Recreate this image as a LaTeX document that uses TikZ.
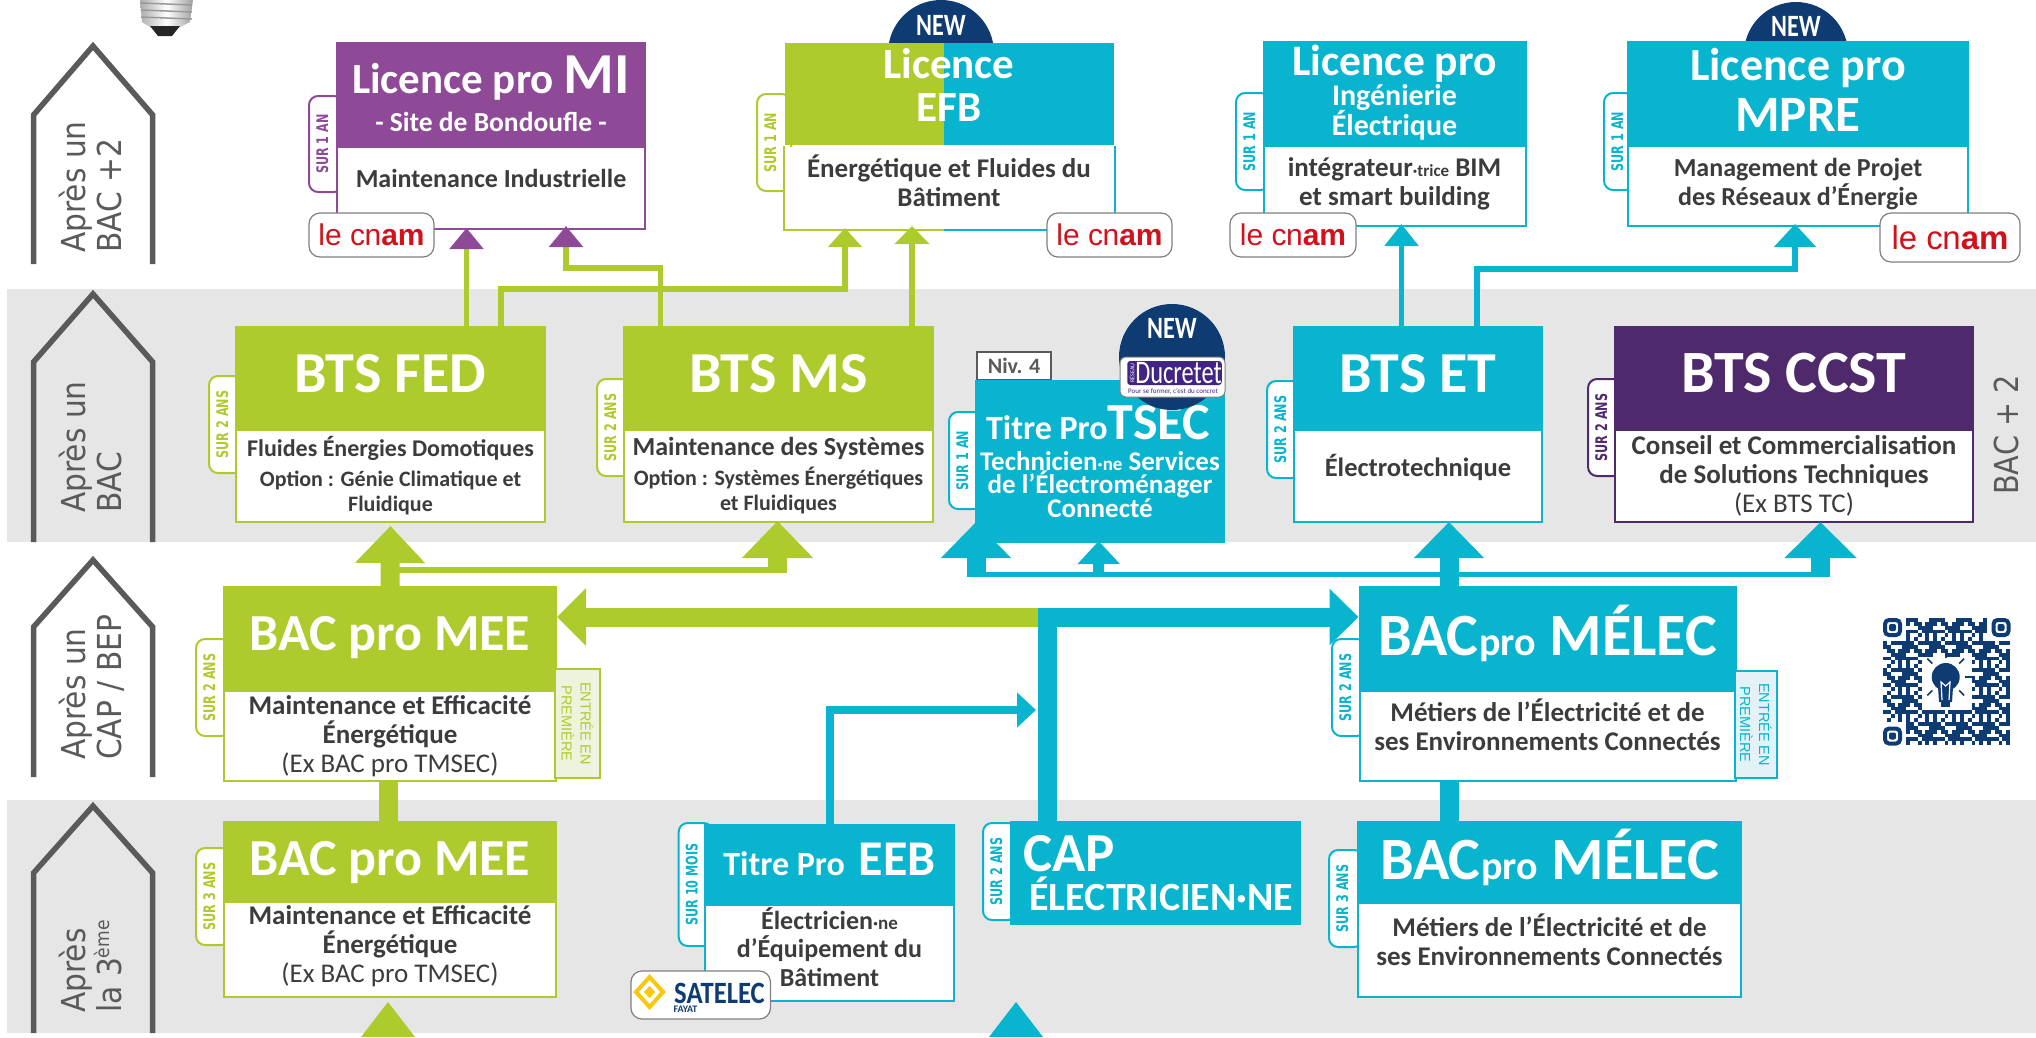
\documentclass[tikz,border=0pt]{standalone}
\usepackage{fontspec}
\setmainfont{Carlito}
\newfontfamily\dejafont{DejaVu Sans}
\newfontfamily\libfont{Liberation Sans}
\usetikzlibrary{arrows.meta}

\definecolor{vert}{RGB}{174,203,45}
\definecolor{bleu}{RGB}{9,180,206}
\definecolor{mauve}{RGB}{142,74,151}
\definecolor{prune}{RGB}{78,42,109}
\definecolor{marine}{RGB}{15,59,115}
\definecolor{ardoise}{RGB}{60,60,60}
\definecolor{maisongris}{RGB}{90,90,90}
\definecolor{bande}{RGB}{230,230,230}
\definecolor{rouge}{RGB}{208,18,27}
\definecolor{jaune}{RGB}{249,200,14}
\definecolor{palevert}{RGB}{237,243,220}
\definecolor{palebleu}{RGB}{227,242,246}

\newcommand{\taille}[2]{\fontsize{#1}{#2}\selectfont}
\newcommand{\etroit}[2]{\scalebox{#1}[1]{#2}}

\tikzset{
	every node/.append style={execute at begin node={\lineskiplimit=-100pt\relax}},
	entete/.style={fill=#1, draw=#1, line width=2pt, text=white, anchor=north west, inner sep=0pt, align=center},
	cadre/.style={fill=white, draw=#1, line width=2pt, text=ardoise, anchor=north west, inner sep=0pt, align=center},
	txt/.style 2 args={font=\bfseries\taille{#1}{#2}},
	duree/.style={fill=white, draw=#1, text=#1, line width=2pt, rotate=90, rounded corners=9pt, inner sep=0pt, text height=12pt, text depth=8pt, font=\dejafont\bfseries\taille{16}{16}},
	cnam/.style={fill=white, draw=gray, line width=1.2pt, rounded corners=11pt, inner sep=0pt},
	premiere/.style={fill=#1, draw=bleu, line width=1.5pt, rotate=-90, inner sep=0pt, align=center, font=\libfont\taille{14.5}{19}},
	maison/.style={draw=maisongris, line width=5.5pt},
	niveau/.style={inner sep=0pt, anchor=base west, rotate=90, text=maisongris, font=\dejafont\taille{33}{33}},
	gros/.style={draw=#1, line width=19pt},
	filet/.style={draw=#1, line width=5.5pt},
	nouveau/.style={inner sep=0pt, text=white, font=\bfseries\taille{31}{31}},
	pointe/.style 2 args={-{Triangle[length=#1,width=#2]}}
}

\begin{document}
\begin{tikzpicture}[x=1pt,y=-1pt]
	\useasboundingbox (0,0) rectangle (2036,1037);

	\fill[bande] (7,289) rectangle (2036,542);
	\fill[bande] (7,800) rectangle (2036,1033);

	\foreach \sommet/\epaule/\pied in {46/115/264, 294/362/542, 560/627/777, 806/873/1033} {
		\draw[maison, line join=miter] (33.5,\pied) -- (33.5,\epaule) -- (93,\sommet) -- (152.7,\epaule) -- (152.7,\pied);
	}
	\foreach \nom/\pied/\ligneA/\ligneB in {bacd/253/Après un/{BAC +2}, baca/513/Après un/BAC, cap/760/Après un/{CAP / BEP}} {
		\node[niveau] (\nom a) at (85,\pied) {\etroit{.9}{\ligneA}};
		\node[niveau] (\nom b) at (121,\pied) {\etroit{.9}{\ligneB}};
	}
	\node[niveau] (troisa) at (85,1013) {\etroit{.9}{Après}};
	\node[niveau] (troisb) at (121,1013) {\etroit{.9}{la 3\raisebox{12pt}{\taille{19}{19}ème}}};
	\node[niveau] (bacplus) at (2018,495) {\etroit{.87}{BAC + 2}};

	% ampoule
	\shade[left color=gray!65, right color=gray!75, middle color=white] (140,0) -- (193,0) -- (190,22) -- (180,27) -- (150,27) -- (142,22) -- cycle;
	\foreach \ystrie in {3,10,17} {
		\draw[gray!80, line width=1.5pt] (141,\ystrie) -- (192,\ystrie+2);
	}
	\fill[black!85] (150,26) -- (180,26) -- (172,36) -- (158,36) -- cycle;

	% pastilles derriere les cadres
	\node[circle, fill=marine, minimum size=106pt, inner sep=0pt] (rondefb) at (941,53) {};
	\node[nouveau] (newefb) at (941,25) {\etroit{.78}{NEW}};
	\node[circle, fill=marine, minimum size=104pt, inner sep=0pt] (rondmpre) at (1796,54) {};
	\node[nouveau] (newmpre) at (1796,26) {\etroit{.78}{NEW}};

	\foreach \nom/\cx/\cy/\lon/\coul/\txt in {
		licmi/326/144/96/mauve/SUR 1 AN, licefb/774/142.5/97/vert/SUR 1 AN, licing/1253/141.5/97/bleu/SUR 1 AN,
		licmpre/1621/141.5/97/bleu/SUR 1 AN, btsfed/226/424.5/97/vert/SUR 2 ANS, btsms/614/427.5/97/vert/SUR 2 ANS,
		tsec/966/460.5/97/bleu/SUR 1 AN, btset/1284/429.5/97/bleu/SUR 2 ANS, btsccst/1605/427.5/97/prune/SUR 2 ANS,
		mee/213/687.5/97/vert/SUR 2 ANS, melec/1349/687.5/97/bleu/SUR 2 ANS, meetrois/213/896.5/97/vert/SUR 3 ANS,
		eeb/695.7/884.5/123/bleu/SUR 10 MOIS, capel/1000/871.5/97/bleu/SUR 2 ANS, melectrois/1346/898.5/97/bleu/SUR 3 ANS} {
		\node[duree=\coul, minimum width=\lon pt, minimum height=34pt] (tab\nom) at (\cx,\cy) {\etroit{.7}{\txt}};
	}

	% licences
	\node[entete=mauve, txt={43}{38}, minimum width=308pt, minimum height=102pt] (licmi) at (336,42)
		{Licence pro {\taille{58}{38}MI}\\\taille{27.5}{38}- Site de Bondoufle -};
	\node[cadre=mauve, txt={26}{30}, minimum width=308pt, minimum height=82pt, text depth=20pt] (licmitxt) at (licmi.south west)
		{Maintenance Industrielle};

	\node[entete=bleu, draw=none, txt={43}{43}, minimum width=329pt, minimum height=102pt, text depth=18pt,
		path picture={\fill[vert] (path picture bounding box.north west) rectangle ([xshift=-5.5pt]path picture bounding box.south);}] (licefb) at (783.5,42)
		{Licence\\EFB};
	\node[cadre=white, draw=none, txt={27}{29}, minimum width=329pt, minimum height=82pt, text depth=14pt] (licefbtxt) at (licefb.south west)
		{Énergétique et Fluides du\\Bâtiment};
	\draw[vert, line width=2pt] (licefb.south west) -- (licefbtxt.south west) -- ([xshift=-5.5pt]licefbtxt.south);
	\draw[bleu, line width=2pt] ([xshift=-5.5pt]licefbtxt.south) -- (licefbtxt.south east) -- (licefb.south east);

	\node[entete=bleu, txt={43.5}{30}, minimum width=262pt, minimum height=102pt] (licing) at (1262.5,41)
		{Licence pro\\\taille{30}{30}Ingénierie\\\taille{30}{30}Électrique};
	\node[cadre=bleu, txt={27}{29}, minimum width=262pt, minimum height=80pt, text depth=8pt] (licingtxt) at (licing.south west)
		{intégrateur{\taille{17}{29}·trice} BIM\\et smart building};

	\node[entete=bleu, txt={46}{51}, minimum width=340pt, minimum height=102pt, text depth=6pt] (licmpre) at (1627,41)
		{Licence pro\\\taille{51}{51}MPRE};
	\node[cadre=bleu, txt={26}{29}, minimum width=340pt, minimum height=80pt, text depth=8pt] (licmpretxt) at (licmpre.south west)
		{Management de Projet\\des Réseaux d’Énergie};

	\foreach \nom/\cx/\cy/\lon/\haut/\corps in {cnammi/371.5/235/125/44/30, cnamefb/1109.5/235/125/44/30, cnaming/1293/235/126/44/30, cnammpre/1950/237.5/140/49/33} {
		\node[cnam, minimum width=\lon pt, minimum height=\haut pt] (\nom) at (\cx,\cy)
			{\libfont\color{rouge}\taille{\corps}{\corps}le c\kern-.5pt n\textbf{am}};
	}

	% bts
	\node[entete=vert, txt={58}{58}, minimum width=309pt, minimum height=101pt, text depth=9pt] (btsfed) at (235,326) {BTS FED};
	\node[cadre=vert, txt={24}{30}, minimum width=309pt, minimum height=92pt] (btsfedtxt) at (btsfed.south west)
		{Fluides Énergies Domotiques\\\taille{22}{30}Option : Génie Climatique et\\[-5pt]\taille{22}{30}Fluidique};
	\node[entete=vert, txt={58}{58}, minimum width=309pt, minimum height=101pt, text depth=9pt] (btsms) at (623,326) {BTS MS};
	\node[cadre=vert, txt={26}{30}, minimum width=309pt, minimum height=92pt] (btsmstxt) at (btsms.south west)
		{Maintenance des Systèmes\\\taille{22}{30}Option : Systèmes Énergétiques\\[-5pt]\taille{22}{30}et Fluidiques};
	\node[entete=bleu, txt={58}{58}, minimum width=248pt, minimum height=101pt, text depth=9pt] (btset) at (1293,326) {BTS ET};
	\node[cadre=bleu, txt={26.5}{30}, minimum width=248pt, minimum height=92pt, text depth=22pt] (btsettxt) at (btset.south west) {Électrotechnique};
	\node[entete=prune, txt={60}{60}, minimum width=358pt, minimum height=101pt, text depth=9pt] (btsccst) at (1614,326) {BTS CCST};
	\node[cadre=prune, txt={27}{29}, minimum width=358pt, minimum height=92pt] (btsccsttxt) at (btsccst.south west)
		{Conseil et Commercialisation\\de Solutions Techniques\\\mdseries (Ex BTS TC)};

	% titre pro tsec
	\node[fill=white, draw=maisongris, line width=2pt, minimum width=74pt, minimum height=28pt, inner sep=0pt, text=maisongris, font=\bfseries\taille{22}{22}] (niv) at (1014,366) {Niv. 4};
	\node[entete=bleu, txt={27}{23.5}, minimum width=248pt, minimum height=161pt] (tsec) at (975,380)
		{\hspace*{-4pt}\taille{34}{31}Titre Pro{\taille{52}{31}TSEC}\\[7.5pt]Technicien{\taille{19}{23.5}·ne} Services\\de l’Électroménager\\Connecté};
	\node[circle, fill=marine, minimum size=106pt, inner sep=0pt] (rondtsec) at (1172,357) {};
	\node[nouveau] (newtsec) at (1172,328) {\etroit{.78}{NEW}};
	\node[fill=white, draw=gray, line width=1pt, rounded corners=6pt, minimum width=105pt, minimum height=40pt, inner sep=0pt] (ducretet) at (1172.5,377) {};
	\node[fill=prune!85!blue, rounded corners=3pt, minimum width=93pt, minimum height=24pt, inner sep=0pt, text=white, font=\taille{33}{33}] (ducretetnom) at (1174.5,373) {\hspace*{8pt}\etroit{.74}{Ducretet}};
	\node[rotate=90, inner sep=0pt, text=white, font=\taille{6}{6}] (reseau) at (1132,373) {RÉSEAU};
	\node[inner sep=0pt, text=prune!85!blue, font=\taille{7}{7}] (concret) at (1173,391) {Pour se former, c’est du concret};

	% bac pro
	\node[entete=vert, txt={52}{52}, minimum width=332pt, minimum height=102pt] (bacmee) at (223,586) {BAC pro MEE};
	\node[cadre=vert, txt={27}{29}, minimum width=332pt, minimum height=90pt] (bacmeetxt) at (bacmee.south west)
		{Maintenance et Efficacité\\Énergétique\\\mdseries (Ex BAC pro TMSEC)};
	\node[premiere=palevert, draw=vert, minimum width=109pt, minimum height=45pt, text=vert] (entreemee) at (577.5,723.5) {ENTRÉE EN\\PREMIÈRE};

	\node[entete=vert, txt={52}{52}, minimum width=332pt, minimum height=78pt, text depth=5pt] (bactrois) at (223,821) {BAC pro MEE};
	\node[cadre=vert, txt={27}{29}, minimum width=332pt, minimum height=95pt, text depth=11pt] (bactroistxt) at (bactrois.south west)
		{Maintenance et Efficacité\\Énergétique\\\mdseries (Ex BAC pro TMSEC)};

	\node[entete=bleu, txt={60}{60}, minimum width=376pt, minimum height=102pt, text depth=16pt] (bacmelec) at (1358.5,586) {BAC\hspace{1pt}{\taille{40}{60}pro} MÉLEC};
	\node[cadre=bleu, txt={27}{29}, minimum width=376pt, minimum height=90pt, text depth=23pt] (bacmelectxt) at (bacmelec.south west)
		{Métiers de l’Électricité et de\\ses Environnements Connectés};
	\node[premiere=palebleu, minimum width=107pt, minimum height=42pt, text=bleu] (entreemelec) at (1756,724.5) {ENTRÉE EN\\PREMIÈRE};

	\node[entete=bleu, txt={60}{60}, minimum width=383pt, minimum height=79pt, text depth=15pt] (melectrois) at (1357,821) {BAC\hspace{1pt}{\taille{40}{60}pro} MÉLEC};
	\node[cadre=bleu, txt={27}{29}, minimum width=383pt, minimum height=94pt, text depth=21pt] (melectroistxt) at (melectrois.south west)
		{Métiers de l’Électricité et de\\ses Environnements Connectés};

	\node[entete=bleu, txt={34}{34}, minimum width=249pt, minimum height=78pt, text depth=9pt] (eeb) at (704,824) {Titre Pro\hspace{14pt}{\taille{50}{50}EEB}};
	\node[cadre=bleu, txt={26}{28.5}, minimum width=249pt, minimum height=96pt, text depth=12pt] (eebtxt) at (eeb.south west)
		{Électricien{\taille{19}{28.5}·ne}\\d’Équipement du\\Bâtiment};

	\node[entete=bleu, txt={55}{39}, minimum width=288.6pt, minimum height=102pt] (capel) at (1010,821)
		{\hspace*{-172pt}CAP\\\hspace*{12pt}\taille{40}{39}ÉLECTRICIEN·NE};

	\node[fill=white, draw=gray, line width=1.2pt, rounded corners=11pt, minimum width=139.5pt, minimum height=48pt, inner sep=0pt] (satelec) at (700.7,995) {};
	\node[inner sep=0pt, text=marine, font=\bfseries\taille{31}{31}] (satelecnom) at (719.5,993) {\etroit{.86}{SATELEC}};
	\node[inner sep=0pt, text=marine, font=\bfseries\taille{10}{10}] (fayat) at (685.5,1009) {FAYAT};
	\draw[jaune, line width=4pt] (649.6,977) -- (663,992) -- (649.6,1007) -- (636,992) -- cycle;
	\fill[jaune] (649.6,986) -- (655,992) -- (649.6,998) -- (644,992) -- cycle;

	% fleches
	\coordinate (fedmi) at (466.5,228);
	\coordinate (msmi) at (566,226);
	\coordinate (fedefb) at (845,228);
	\coordinate (msefb) at (912,226);
	\coordinate (etsing) at (1401.5,224);
	\coordinate (etmpre) at (1795,224);
	\coordinate (fedhaut) at (501,289);
	\coordinate (mshaut) at (660.7,268);
	\coordinate (ethaut) at (1477,269);

	\draw[filet=vert, -{Triangle[length=21pt,width=33pt,color=mauve]}] (fedmi |- btsfed.north) -- (fedmi);
	\draw[filet=vert, -{Triangle[length=21pt,width=33pt,color=mauve]}] (mshaut |- btsms.north) -- (mshaut) -| (msmi);
	\draw[filet=vert, pointe={19pt}{33pt}] (fedhaut |- btsfed.north) -- (fedhaut) -| (fedefb);
	\draw[filet=vert, pointe={18pt}{34pt}] (msefb |- btsms.north) -- (msefb);
	\draw[filet=bleu, pointe={22pt}{33pt}] (etsing |- btset.north) -- (etsing);
	\draw[filet=bleu, pointe={23pt}{41pt}] (ethaut |- btset.north) -- (ethaut) -| (etmpre);

	\coordinate (railvert) at (388,570);
	\coordinate (msfl) at (777.5,521);
	\coordinate (jonction) at (1047,617);
	\coordinate (eebfl) at (1036,710);
	\coordinate (melecfl) at (1449,522);
	\coordinate (tsecfl) at (976,522);
	\coordinate (tsecfldeux) at (1098.7,541);
	\coordinate (ccstfl) at (1820.5,522);
	\coordinate (railbleu) at (967,574.6);
	\coordinate (finbleu) at (1830,574.6);
	\coordinate (meefl) at (388,1002);

	\draw[gros=vert, pointe={37pt}{68pt}, shorten >=3pt] (bacmee.north) -- (btsfedtxt.south);
	\draw[draw=vert, line width=5.5pt] (railvert) -- (railvert -| msfl) -- ++(9.5,0);
	\draw[gros=vert, pointe={37pt}{69pt}] (msfl |- 0,573) -- (msfl);
	\draw[gros=vert] (bacmeetxt.south -| railvert) -- (bactrois.north -| railvert);
	\draw[gros=vert, pointe={29pt}{56pt}] (jonction) -- (jonction -| bacmee.east);

	\draw[gros=bleu, pointe={29pt}{55pt}] (jonction |- capel.north) -- (jonction) -- (jonction -| bacmelec.west);
	\draw[draw=bleu, line width=8pt, pointe={19pt}{34pt}] (eeb.north) |- (eebfl);

	\draw[draw=bleu, line width=5pt] (railbleu) -- (finbleu);
	\draw[gros=bleu, pointe={36pt}{68pt}] (melecfl |- bacmelec.north) -- (melecfl);
	\draw[gros=bleu] (melecfl |- bacmelectxt.south) -- (melecfl |- melectrois.north);
	\draw[gros=bleu, pointe={36pt}{68pt}] (tsecfl |- 0,577) -- (tsecfl);
	\draw[draw=bleu, line width=11pt, pointe={23pt}{41pt}] (tsecfldeux |- 0,575) -- (tsecfldeux);
	\draw[gros=bleu, pointe={36pt}{70pt}] (ccstfl |- 0,577) -- (ccstfl);

	\fill[vert] (meefl) -- ++(27,35) -- ++(-54,0) -- cycle;
	\fill[bleu] (1016,1002) -- ++(27,35) -- ++(-54,0) -- cycle;

	% qr
	\foreach \i in {0,...,32} {
		\foreach \j in {0,...,32} {
			\pgfmathtruncatemacro\garde{(mod(\i*\i+2*\j*\j+3*\i*\j+\i+2*\j,7)<4) && !(\i<6 && \j<6) && !(\i>26 && \j<6) && !(\i<6 && \j>26) && !(\i>9 && \i<23 && \j>9 && \j<24)}
			\ifnum\garde=1
				\fill[marine] ({1883+\i*3.85},{618+\j*3.85}) rectangle ++(3.85,3.85);
			\fi
		}
	}
	\foreach \qx/\qy in {1883/618, 1991.5/618, 1883/726.5} {
		\draw[marine, line width=4pt, rounded corners=4pt] (\qx+2,\qy+2) rectangle ++(15,15);
		\fill[marine, rounded corners=2pt] (\qx+6,\qy+6) rectangle ++(7,7);
	}
	\fill[marine] (1945.7,677) circle (14);
	\fill[marine] (1938,687) -- (1953,687) -- (1952,702) -- (1939,702) -- cycle;
	\fill[marine] (1941,702) rectangle (1950,707);
	\draw[white, line width=1.2pt] (1942,700) -- (1941,682) -- (1945.7,686) -- (1950,682) -- (1949,700);
	\foreach \ang in {0,45,...,180,315,360,225} {
		\draw[marine, line width=1.6pt] (1945.7,677) ++({\ang-90}:19) -- ++({\ang-90}:7);
	}
\end{tikzpicture}
\end{document}
